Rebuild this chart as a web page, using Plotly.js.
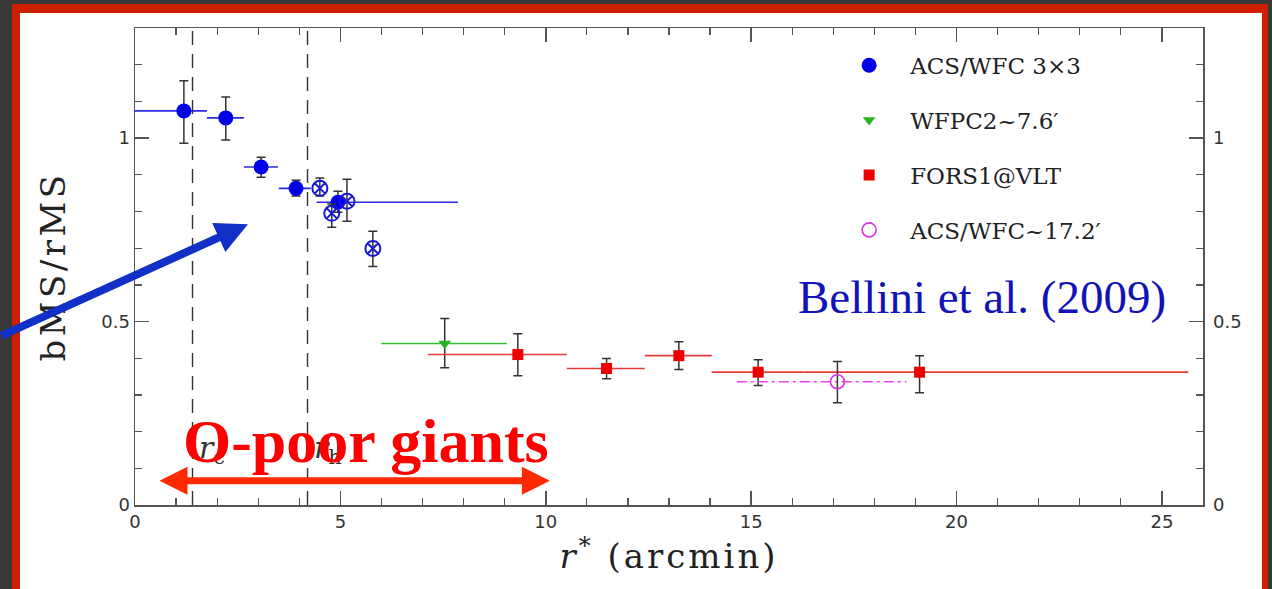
<!DOCTYPE html>
<html>
<head>
<meta charset="utf-8">
<script src="https://cdn.plot.ly/plotly-3.0.1.min.js"></script>
<style>
  html, body { margin:0; padding:0; width:1272px; height:589px; overflow:hidden; background:#383838; }
  #red { position:absolute; left:12px; top:4px; width:1256px; height:620px; background:#cc2000; }
  #white { position:absolute; left:20px; top:13px; width:1242px; height:620px; background:#ffffff; }
  #chart { position:absolute; left:0; top:0; width:1272px; height:589px; }
</style>
</head>
<body>
<div id="red"></div>
<div id="white"></div>
<div id="chart"></div>
<script>
// ---- data ----
// ACS/WFC 3x3 (filled circles)
const acsX        = [1.19, 2.21, 3.07, 3.92, 4.94];
const acsY        = [1.074, 1.055, 0.921, 0.863, 0.825];
const acsErrUp    = [0.082, 0.057, 0.027, 0.022, 0.030];
const acsErrDown  = [0.088, 0.060, 0.028, 0.021, 0.027];
const acsXErrLeft = [1.19, 0.46, 0.42, 0.42, 0.52];
const acsXErrRight= [0.56, 0.44, 0.41, 0.36, 2.92];
// ACS/WFC 3x3 outer fields (crossed circles)
const acsOutX       = [4.50, 4.79, 5.16, 5.79];
const acsOutY       = [0.863, 0.795, 0.828, 0.699];
const acsOutErrUp   = [0.028, 0.025, 0.060, 0.047];
const acsOutErrDown = [0.021, 0.038, 0.055, 0.049];
// WFPC2 ~7.6'
const wfpcX = [7.54], wfpcY = [0.440];
const wfpcErrUp = [0.068], wfpcErrDown = [0.066];
const wfpcXErrLeft = [1.54], wfpcXErrRight = [1.51];
// FORS1@VLT
const forsX        = [9.32, 11.48, 13.24, 15.17, 19.10];
const forsY        = [0.410, 0.372, 0.407, 0.362, 0.362];
const forsErrUp    = [0.057, 0.027, 0.038, 0.034, 0.045];
const forsErrDown  = [0.058, 0.028, 0.038, 0.036, 0.056];
const forsXErrLeft = [2.19, 0.97, 0.83, 1.13, 2.80];
const forsXErrRight= [1.19, 0.93, 0.80, 1.13, 6.54];
// ACS/WFC ~17.2'
const acs17X = [17.1], acs17Y = [0.336];
const acs17ErrUp = [0.055], acs17ErrDown = [0.057];
const acs17XErrLeft = [2.45], acs17XErrRight = [1.68];
// core and half-mass radii (arcmin)
const refRadii  = [1.4, 4.2];
const refLabels = ['<i>r</i><sub>c</sub>', '<i>r</i><sub>h</sub>'];
const seriesNames = ['ACS/WFC 3×3', 'WFPC2~7.6′', 'FORS1@VLT', 'ACS/WFC~17.2′'];

const yErr = (up, down) => ({type:'data', symmetric:false, array:up, arrayminus:down,
  color:'#333333', thickness:1.5, width:4.5});
const xErr = (right, left, col) => ({type:'data', symmetric:false, array:right, arrayminus:left,
  color:col, thickness:1.6, width:0});

const traces = [
  { x: acsX, y: acsY, mode:'markers', type:'scatter', name: seriesNames[0], legendgroup:'a',
    marker:{symbol:'circle', size:15, color:'#0000e6'},
    error_y: yErr(acsErrUp, acsErrDown), error_x: xErr(acsXErrRight, acsXErrLeft, '#2a2ae0') },
  { x: acsOutX, y: acsOutY, mode:'markers', type:'scatter', name:'ACS/WFC 3×3 (outer)', showlegend:false, legendgroup:'a',
    marker:{symbol:'circle-x-open', size:15, color:'#1818d0', line:{width:2, color:'#1818d0'}},
    error_y: yErr(acsOutErrUp, acsOutErrDown) },
  { x: wfpcX, y: wfpcY, mode:'markers', type:'scatter', name: seriesNames[1], legendgroup:'b',
    marker:{symbol:'triangle-down', size:11, color:'#22b422'},
    error_y: yErr(wfpcErrUp, wfpcErrDown), error_x: xErr(wfpcXErrRight, wfpcXErrLeft, '#33bb33') },
  { x: forsX, y: forsY, mode:'markers', type:'scatter', name: seriesNames[2], legendgroup:'c',
    marker:{symbol:'square', size:11, color:'#ee0000'},
    error_y: yErr(forsErrUp, forsErrDown), error_x: xErr(forsXErrRight, forsXErrLeft, '#e83a3a') },
  { x: [acs17X[0] - acs17XErrLeft[0], acs17X[0] + acs17XErrRight[0]], y: [acs17Y[0], acs17Y[0]],
    mode:'lines', type:'scatter', showlegend:false, hoverinfo:'skip', legendgroup:'d',
    line:{color:'#ee40ee', width:1.6, dash:'10px,4px,3px,4px'} },
  { x: acs17X, y: acs17Y, mode:'markers', type:'scatter', name: seriesNames[3], legendgroup:'d',
    marker:{symbol:'circle-open', size:14, color:'#dd33dd', line:{width:1.6}},
    error_y: yErr(acs17ErrUp, acs17ErrDown) },
  // empty trace so that the right-hand mirrored axis is drawn
  { x: [], y: [], yaxis:'y2', type:'scatter', mode:'markers', showlegend:false, hoverinfo:'skip' }
];

const tickFont = {family:'DejaVu Sans', size:18, color:'#333'};
const axBase = {
  showgrid:false, zeroline:false, showline:true, linecolor:'#555', linewidth:1.5,
  ticks:'inside', ticklen:14, tickwidth:1.5, tickcolor:'#555', tickfont:tickFont
};
const minorY = {dtick:0.1, ticks:'inside', ticklen:7, tickwidth:1.3, tickcolor:'#555'};

const shapes = refRadii.map(r => ({type:'line', xref:'x', yref:'paper', x0:r, x1:r, y0:0, y1:1,
  line:{color:'#333', width:1.4, dash:'14px,9px'}}));

const annotations = [
  ...refRadii.map((r, i) => ({x:r + 0.12, y:0.15, xref:'x', yref:'y', xanchor:'left', yanchor:'middle',
    text: refLabels[i], showarrow:false, font:{family:'DejaVu Serif', size:30, color:'#333'}})),
  {x:5.62, y:0.175, xref:'x', yref:'y', xanchor:'center', yanchor:'middle', showarrow:false,
   text:'<b>O-poor giants</b>', font:{family:'Liberation Serif', size:62, color:'#ff0000'}},
  {x:20.63, y:0.568, xref:'x', yref:'y', xanchor:'center', yanchor:'middle', showarrow:false,
   text:'Bellini et al. (2009)', font:{family:'Liberation Serif', size:47, color:'#1212b8'}},
  {x:10.1, y:0.066, xref:'x', yref:'y', ax:0.56, ay:0.066, axref:'x', ayref:'y', text:'',
   showarrow:true, arrowside:'end+start', arrowhead:2, startarrowhead:2, arrowsize:0.8, startarrowsize:0.8,
   arrowwidth:7, arrowcolor:'#ff2a00'},
  {x:2.75, y:0.765, xref:'x', yref:'y', ax:-258, ay:112, text:'', showarrow:true,
   arrowhead:2, arrowsize:0.8, arrowwidth:8, arrowcolor:'#1030c8'}
];

const layout = {
  width:1272, height:589,
  font:{family:'DejaVu Serif', color:'#222'},
  paper_bgcolor:'rgba(0,0,0,0)', plot_bgcolor:'rgba(0,0,0,0)',
  margin:{l:135, r:69, t:28, b:84, pad:0},
  showlegend:true,
  legend:{x:0.649, y:0.967, xanchor:'left', yanchor:'top', bgcolor:'rgba(0,0,0,0)',
    font:{family:'DejaVu Serif', size:23, color:'#222'}, traceorder:'grouped', tracegroupgap:22, itemwidth:72},
  xaxis: Object.assign({}, axBase, {range:[0, 26], dtick:5, tick0:0, mirror:'ticks',
    minor:{dtick:1, ticks:'inside', ticklen:7, tickwidth:1.3, tickcolor:'#555'},
    title:{text:'<i>r</i><sup>*</sup> (arcmin)', font:{family:'DejaVu Serif', size:34, color:'#222'}, standoff:11}}),
  yaxis: Object.assign({}, axBase, {range:[0, 1.3], dtick:0.5, tick0:0, minor:minorY,
    title:{text:'bMS/rMS', font:{family:'DejaVu Serif', size:34, color:'#222'}, standoff:25}}),
  yaxis2: Object.assign({}, axBase, {range:[0, 1.3], dtick:0.5, tick0:0, overlaying:'y', side:'right', anchor:'x',
    minor:minorY, ticklabelstandoff:5}),
  shapes: shapes,
  annotations: annotations
};

Plotly.newPlot('chart', traces, layout, {displayModeBar:false, staticPlot:true}).then(() => {
  document.querySelectorAll('.ytitle').forEach(t => { t.style.letterSpacing = '3.5px'; });
  document.querySelectorAll('.xtitle').forEach(t => { t.style.letterSpacing = '3px'; });
});
</script>
</body>
</html>
